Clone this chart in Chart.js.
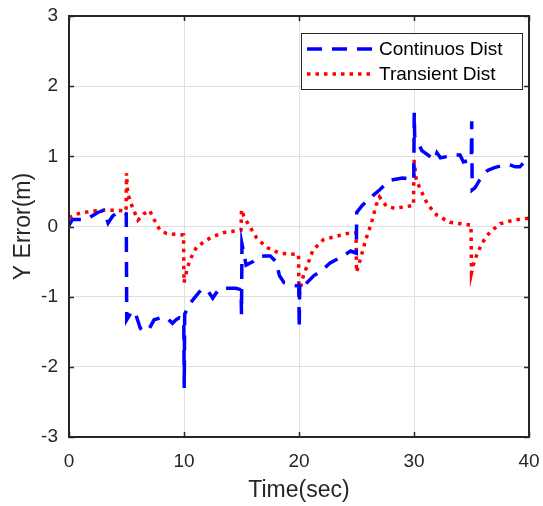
<!DOCTYPE html>
<html><head><meta charset="utf-8">
<script src="https://cdn.jsdelivr.net/npm/chart.js@4.4.1/dist/chart.umd.min.js"></script>
<style>html,body{margin:0;padding:0;background:#fff;}canvas{display:block;}</style>
</head><body>
<canvas id="c" width="543" height="506"></canvas>
<script>
const seriesNames = ['Continuos Dist', 'Transient Dist'];
const axisTitles = ['Time(sec)', 'Y Error(m)'];
const xTicks = [0, 10, 20, 30, 40];
const yTicks = [-3, -2, -1, 0, 1, 2, 3];

const contTime = [0, 0.3, 1.0, 1.5, 2.0, 2.5, 3.0, 3.2, 3.4, 3.8, 4.2, 4.6, 4.98,
  5.02, 5.5, 5.8, 6.2, 6.6, 7.0, 7.4, 8.0, 8.5, 9.0, 9.3, 9.6, 9.98,
  10.02, 10.06, 10.5, 11.0, 11.5, 12.0, 12.5, 13.0, 13.5, 14.0, 14.5, 14.96,
  15.0, 15.04, 15.4, 16.0, 16.5, 17.0, 17.5, 18.0, 18.3, 18.7, 19.2, 19.6, 19.98,
  20.02, 20.06, 20.3, 20.7, 21.3, 21.8, 22.3, 22.7, 23.5, 24.0, 24.5, 24.98,
  25.02, 25.5, 26.0, 26.5, 27.0, 27.5, 28.0, 29.0, 29.5, 29.98,
  30.02, 30.06, 30.7, 31.2, 31.8, 32.0, 32.3, 33.0, 33.5, 34.0, 34.3, 34.98,
  35.02, 35.06, 35.3, 35.7, 36.4, 37.0, 37.7, 38.3, 38.8, 39.2, 39.6, 40.0];
const contErr = [0.02, 0.1, 0.1, 0.1, 0.15, 0.2, 0.23, 0.15, 0.05, 0.15, 0.2, 0.2, 0.18,
  -1.33, -1.2, -1.25, -1.45, -1.5, -1.45, -1.33, -1.3, -1.3, -1.38, -1.33, -1.3, -1.32,
  -2.3, -1.25, -1.1, -1.0, -0.9, -0.9, -1.02, -0.9, -0.88, -0.88, -0.88, -0.9,
  -1.25, -0.25, -0.55, -0.5, -0.43, -0.42, -0.42, -0.5, -0.7, -0.8, -0.82, -0.84, -0.85,
  -1.45, -0.85, -0.9, -0.8, -0.7, -0.65, -0.58, -0.52, -0.45, -0.4, -0.35, -0.38,
  0.2, 0.3, 0.38, 0.45, 0.52, 0.6, 0.66, 0.69, 0.68, 0.66,
  1.62, 1.28, 1.08, 1.02, 0.95, 1.05, 0.98, 1.0, 1.02, 1.02, 0.92, 0.95,
  1.5, 0.52, 0.55, 0.66, 0.8, 0.84, 0.87, 0.88, 0.85, 0.85, 0.92, 0.94];

const transTime = [0, 0.05, 0.5, 1, 2, 3, 4, 4.96,
  5.0, 5.1, 5.5, 6.0, 6.5, 7.0, 7.4, 7.9, 8.5, 9.2, 9.96,
  10.0, 10.25, 10.5, 11.1, 12.3, 13.4, 14.96,
  15.0, 15.2, 15.5, 16.3, 17.2, 18.3, 19.96,
  20.0, 20.15, 20.35, 20.8, 21.2, 22.1, 23.0, 24.2, 24.96,
  25.0, 25.4, 25.8, 26.3, 26.7, 27.0, 27.6, 28.3, 29.2, 29.96,
  30.0, 30.2, 30.7, 31.2, 32.0, 33.1, 34.96,
  35.0, 35.15, 35.4, 35.9, 36.6, 37.5, 38.6, 40];
const transErr = [0.0, 0.13, 0.17, 0.19, 0.22, 0.23, 0.23, 0.22,
  0.76, 0.47, 0.28, 0.09, 0.18, 0.23, 0.1, -0.05, -0.1, -0.11, -0.12,
  -0.8, -0.62, -0.48, -0.29, -0.16, -0.09, -0.05,
  0.24, 0.15, 0.06, -0.16, -0.3, -0.38, -0.4,
  -1.0, -0.85, -0.72, -0.52, -0.34, -0.19, -0.15, -0.1, -0.09,
  -0.65, -0.43, -0.19, 0.05, 0.3, 0.42, 0.29, 0.26, 0.28, 0.3,
  0.95, 0.66, 0.48, 0.31, 0.16, 0.06, 0.02,
  -0.66, -0.55, -0.43, -0.24, -0.08, 0.04, 0.09, 0.12];

const FONT = "'Liberation Sans', Arial, sans-serif";
const INK = '#262626';
const pts = (ts, vs) => ts.map((t, i) => ({x: t, y: vs[i]}));

const styles = [
  {color: '#0000ff', dash: [15, 10], width: 3.5},
  {color: '#ff0000', dash: [3.5, 5], width: 3.5}
];

const framePlugin = {
  id: 'frame',
  afterDatasetsDraw(chart) {
    const {ctx, chartArea: a, scales: {x, y}} = chart;
    ctx.save();
    ctx.strokeStyle = INK;
    ctx.lineWidth = 1.5;
    ctx.setLineDash([]);
    ctx.beginPath();
    xTicks.forEach(v => {
      const px = Math.round(x.getPixelForValue(v)) + 0.5;
      ctx.moveTo(px, a.bottom); ctx.lineTo(px, a.bottom - 5);
      ctx.moveTo(px, a.top); ctx.lineTo(px, a.top + 5);
    });
    yTicks.forEach(v => {
      const py = Math.round(y.getPixelForValue(v)) + 0.5;
      ctx.moveTo(a.left, py); ctx.lineTo(a.left + 5, py);
      ctx.moveTo(a.right, py); ctx.lineTo(a.right - 5, py);
    });
    ctx.stroke();
    ctx.lineWidth = 2;
    ctx.strokeRect(a.left, a.top, a.right - a.left, a.bottom - a.top);

    // legend
    const lx = a.right - 228, ly = a.top + 17, lw = 221, lh = 56;
    ctx.fillStyle = '#ffffff';
    ctx.fillRect(lx, ly, lw, lh);
    ctx.lineWidth = 1;
    ctx.strokeStyle = INK;
    ctx.strokeRect(lx + 0.5, ly + 0.5, lw, lh);
    ctx.font = '19px ' + FONT;
    ctx.textBaseline = 'middle';
    ctx.textAlign = 'left';
    chart.data.datasets.forEach((ds, i) => {
      const yy = ly + 16 + i * 25;
      ctx.beginPath();
      ctx.strokeStyle = ds.borderColor;
      ctx.lineWidth = ds.borderWidth;
      ctx.lineCap = 'butt';
      ctx.setLineDash(ds.borderDash);
      ctx.moveTo(lx + 6, yy); ctx.lineTo(lx + 71, yy);
      ctx.stroke();
      ctx.setLineDash([]);
      ctx.fillStyle = '#000000';
      ctx.fillText(ds.label, lx + 78, yy + 1);
    });
    ctx.restore();
  }
};

new Chart(document.getElementById('c'), {
  type: 'line',
  data: {
    datasets: [
      {label: seriesNames[0], data: pts(contTime, contErr)},
      {label: seriesNames[1], data: pts(transTime, transErr)}
    ].map((d, i) => Object.assign(d, {
      borderColor: styles[i].color, borderDash: styles[i].dash, borderWidth: styles[i].width,
      borderCapStyle: 'butt', pointRadius: 0, fill: false, tension: 0
    }))
  },
  options: {
    responsive: false,
    animation: false,
    layout: {padding: {left: 0, right: 14, top: 16, bottom: 0}},
    plugins: {legend: {display: false}, tooltip: {enabled: false}},
    scales: {
      x: {
        type: 'linear', min: 0, max: 40,
        afterBuildTicks: s => { s.ticks = xTicks.map(v => ({value: v})); },
        afterFit: s => { s.height = 69; s.paddingLeft = 0; s.paddingRight = 0; },
        ticks: {font: {family: FONT, size: 19}, color: INK, padding: 13, maxRotation: 0},
        grid: {color: '#e0e0e0', lineWidth: 1, drawTicks: false},
        border: {display: false},
        title: {display: true, text: axisTitles[0], color: INK, font: {family: FONT, size: 23}, padding: {top: 0, bottom: 2}}
      },
      y: {
        type: 'linear', min: -3, max: 3,
        afterBuildTicks: s => { s.ticks = yTicks.map(v => ({value: v})); },
        afterFit: s => { s.width = 69; s.paddingTop = 0; s.paddingBottom = 0; },
        ticks: {font: {family: FONT, size: 19}, color: INK, padding: 11},
        grid: {color: '#e0e0e0', lineWidth: 1, drawTicks: false},
        border: {display: false},
        title: {display: true, text: axisTitles[1], color: INK, font: {family: FONT, size: 23}, padding: {top: 10, bottom: 0}}
      }
    }
  },
  plugins: [framePlugin]
});
</script>
</body></html>
